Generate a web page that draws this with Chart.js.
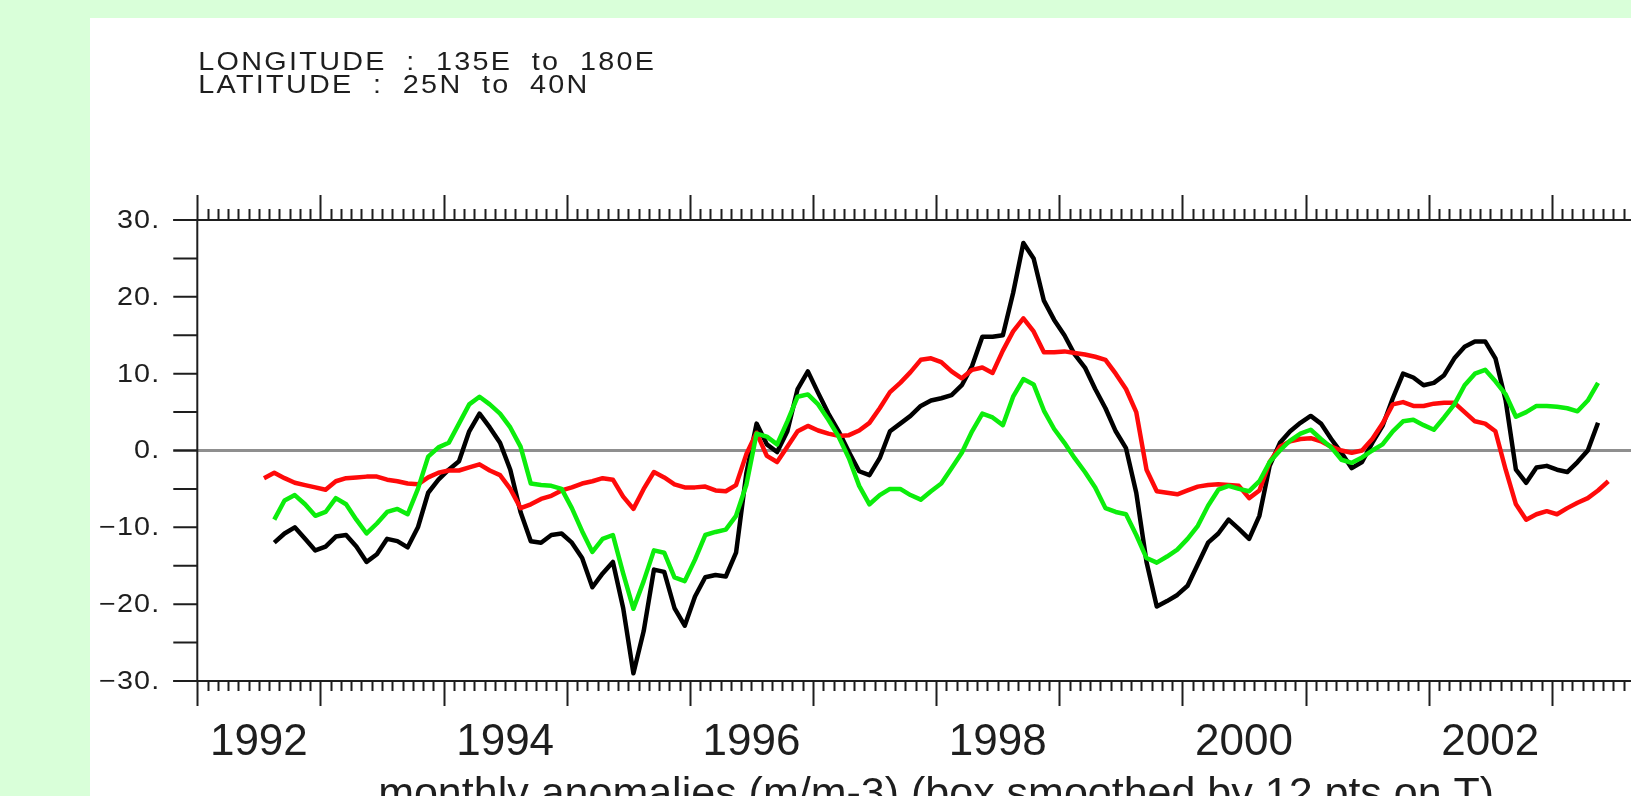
<!DOCTYPE html>
<html>
<head>
<meta charset="utf-8">
<title>Monthly anomalies 135E-180E, 25N-40N</title>
<script src="https://cdn.jsdelivr.net/npm/chart.js@4.4.1/dist/chart.umd.min.js"></script>
<style>
  html, body { margin: 0; padding: 0; width: 1631px; height: 796px; overflow: hidden; background: #d9ffd9; }
  #panel { position: absolute; left: 90px; top: 18px; width: 1700px; height: 800px; background: #ffffff; }
  canvas { display: block; }
</style>
</head>
<body>
<div id="panel"><canvas id="chart" width="1700" height="800"></canvas></div>
<script>
// Time axis in decimal years; series are monthly, index 0 = January 1992
const firstYear = 1992;
const axisYears = [1992, 2004];
const yearLabels = [1992, 1994, 1996, 1998, 2000, 2002];
const yTickValues = [30, 20, 10, 0, -10, -20, -30];
const yTickLabels = ['30.', '20.', '10.', '0.', '\u221210.', '\u221220.', '\u221230.'];
const headerLines = ['LONGITUDE : 135E to 180E', 'LATITUDE : 25N to 40N'];
const axisTitle = 'monthly anomalies (m/m-3) (box smoothed by 12 pts on T)';

// first month of each smoothed series (months after Jan 1992)
const blackStart = 7;   // Aug 1992
const redStart = 6;     // Jul 1992
const greenStart = 7;   // Aug 1992

// 12-point box-smoothed anomalies
const blackSeries = [
  -12.0, -10.8, -10.0, -11.5, -13.0,
  -12.5, -11.2, -11.0, -12.5, -14.5, -13.5,
  -11.5, -11.8, -12.6, -10.0, -5.5, -3.8,
  -2.5, -1.4, 2.5, 4.8, 3.0, 1.0,
  -2.5, -8.0, -11.8, -12.0, -11.0, -10.8,
  -12.0, -14.0, -17.8, -16.0, -14.5, -20.5,
  -29.0, -23.5, -15.5, -15.8, -20.5, -22.8,
  -19.0, -16.5, -16.2, -16.4, -13.3, -3.0,
  3.5, 0.8, -0.2, 2.5, 8.0, 10.3,
  7.5, 4.8, 2.5, -0.2, -2.7, -3.2,
  -1.0, 2.5, 3.5, 4.5, 5.8, 6.5,
  6.8, 7.2, 8.5, 11.0, 14.8, 14.8,
  15.0, 20.5, 27.0, 25.0, 19.5, 17.0,
  15.0, 12.5, 10.8, 8.0, 5.5, 2.5,
  0.3, -5.5, -14.5, -20.3, -19.6, -18.8,
  -17.6, -14.8, -12.0, -10.8, -9.0, -10.2,
  -11.5, -8.5, -2.0, 1.0, 2.5, 3.6,
  4.5, 3.5, 1.5, -0.3, -2.3, -1.5,
  1.0, 3.2, 6.8, 10.0, 9.5, 8.5,
  8.8, 9.8, 12.0, 13.5, 14.2, 14.2,
  12.0, 6.5, -2.5, -4.2, -2.2, -2.0,
  -2.5, -2.8, -1.5, 0.0, 3.6
];

const redSeries = [
  -3.6, -2.9, -3.6, -4.2, -4.5, -4.8,
  -5.1, -4.0, -3.6, -3.5, -3.4, -3.4,
  -3.8, -4.0, -4.3, -4.4, -3.5, -2.9,
  -2.6, -2.6, -2.2, -1.8, -2.6, -3.2,
  -5.0, -7.5, -7.0, -6.3, -5.9, -5.2,
  -4.8, -4.3, -4.0, -3.6, -3.8, -6.0,
  -7.6, -5.0, -2.8, -3.5, -4.4, -4.8,
  -4.8, -4.7, -5.2, -5.3, -4.5, -0.5,
  2.3, -0.7, -1.5, 0.5, 2.5, 3.2,
  2.6, 2.2, 1.9, 2.0, 2.6, 3.6,
  5.5, 7.6, 8.8, 10.2, 11.8, 12.0,
  11.5, 10.3, 9.4, 10.5, 10.8, 10.1,
  13.0, 15.5, 17.2, 15.5, 12.8, 12.8,
  12.9, 12.7, 12.5, 12.2, 11.8, 10.0,
  8.0, 5.0, -2.5, -5.3, -5.5, -5.7,
  -5.2, -4.7, -4.5, -4.4, -4.5, -4.6,
  -6.2, -5.2, -1.5, 0.5, 1.2, 1.5,
  1.6, 1.2, 0.5, 0.0, -0.3, 0.0,
  1.5, 3.5, 6.0, 6.3, 5.8, 5.8,
  6.1, 6.2, 6.2, 5.0, 3.8, 3.5,
  2.5, -2.5, -7.0, -9.0, -8.3, -7.9,
  -8.3, -7.5, -6.8, -6.2, -5.2, -4.0
];

const greenSeries = [
  -9.0, -6.5, -5.8, -7.0, -8.5,
  -8.0, -6.2, -7.0, -9.0, -10.8, -9.5,
  -8.0, -7.6, -8.3, -5.0, -0.8, 0.4,
  1.0, 3.5, 6.0, 7.0, 6.0, 4.8,
  3.0, 0.5, -4.3, -4.5, -4.6, -5.0,
  -7.5, -10.5, -13.2, -11.5, -11.0, -16.0,
  -20.6, -17.0, -13.0, -13.3, -16.5, -17.0,
  -14.2, -11.0, -10.6, -10.3, -8.5, -4.5,
  2.2, 1.8, 0.8, 3.8, 7.0, 7.3,
  6.0, 4.0, 1.8, -1.0, -4.6, -7.0,
  -5.8, -5.0, -5.0, -5.8, -6.4, -5.3,
  -4.3, -2.3, -0.3, 2.5, 4.8, 4.3,
  3.3, 7.0, 9.3, 8.6, 5.2, 2.8,
  1.0, -1.0, -2.8, -4.8, -7.5, -8.0,
  -8.3, -11.0, -14.0, -14.6, -13.8, -12.9,
  -11.5, -9.8, -7.2, -5.1, -4.6, -5.0,
  -5.3, -4.0, -1.5, 0.0, 1.3, 2.2,
  2.7, 1.5, 0.4, -1.2, -1.6, -0.9,
  0.0, 0.8, 2.5, 3.8, 4.0, 3.3,
  2.7, 4.3, 6.0, 8.5, 10.0, 10.5,
  9.0, 7.3, 4.4, 5.0, 5.8, 5.8,
  5.7, 5.5, 5.1, 6.5, 8.8
];

// place each value at mid-month, in decimal years
function monthPoints(values, start) {
  return values.map((v, i) => ({ x: firstYear + (start + i + 0.5) / 12, y: v }));
}

const FONT = 'Arial, "Liberation Sans", sans-serif';
const INK = '#1e1e1e';
const STRETCH = 1.15;   // plotter font is wider than Arial

function wideText(ctx, text, x, y, align) {
  ctx.save();
  ctx.translate(x, y);
  ctx.scale(STRETCH, 1);
  ctx.textAlign = align;
  ctx.fillText(text, 0, 0);
  ctx.restore();
}

const ferretFrame = {
  id: 'ferretFrame',
  beforeDatasetsDraw(chart) {
    const { ctx, chartArea: a, scales: { x, y } } = chart;
    ctx.save();

    // zero reference line
    const y0 = y.getPixelForValue(0);
    ctx.strokeStyle = '#8f8f8f';
    ctx.lineWidth = 3;
    ctx.beginPath();
    ctx.moveTo(a.left - 24, y0);
    ctx.lineTo(a.right, y0);
    ctx.stroke();

    // frame
    ctx.strokeStyle = INK;
    ctx.lineWidth = 2;
    ctx.beginPath();
    ctx.moveTo(a.left - 24, a.top); ctx.lineTo(a.right, a.top);
    ctx.moveTo(a.left - 24, a.bottom); ctx.lineTo(a.right, a.bottom);
    ctx.moveTo(a.left, a.top); ctx.lineTo(a.left, a.bottom);
    ctx.stroke();

    // y ticks every 5 units
    ctx.beginPath();
    for (let v = y.min; v <= y.max; v += 5) {
      const py = y.getPixelForValue(v);
      ctx.moveTo(a.left - 24, py); ctx.lineTo(a.left, py);
    }
    ctx.stroke();

    // monthly ticks on the top and bottom axes, yearly ticks longer
    ctx.beginPath();
    const nMonths = Math.round((x.max - x.min) * 12);
    for (let m = 0; m <= nMonths; m++) {
      const px = Math.round(x.getPixelForValue(x.min + m / 12)) + 0.5;
      const major = m % 12 === 0;
      ctx.moveTo(px, a.top); ctx.lineTo(px, a.top - (major ? 25 : 11));
      ctx.moveTo(px, a.bottom); ctx.lineTo(px, a.bottom + (major ? 25 : 10));
    }
    ctx.stroke();

    // y tick labels
    ctx.fillStyle = INK;
    ctx.font = '25px ' + FONT;
    ctx.letterSpacing = '1px';
    ctx.textBaseline = 'middle';
    yTickValues.forEach((v, i) => {
      wideText(ctx, yTickLabels[i], a.left - 37, y.getPixelForValue(v) + 1, 'right');
    });

    // year labels centred on each labelled year
    ctx.letterSpacing = '0px';
    ctx.font = '44px ' + FONT;
    ctx.textAlign = 'center';
    ctx.textBaseline = 'alphabetic';
    yearLabels.forEach(yr => {
      ctx.fillText(String(yr), x.getPixelForValue(yr + 0.5), a.bottom + 74);
    });

    // axis title
    ctx.font = '43px ' + FONT;
    ctx.fillText(axisTitle, (a.left + a.right) / 2, a.bottom + 126);

    // header
    ctx.font = '25px ' + FONT;
    ctx.letterSpacing = '2px';
    ctx.wordSpacing = '8px';
    wideText(ctx, headerLines[0], a.left + 1, 52, 'left');
    wideText(ctx, headerLines[1], a.left + 1, 75, 'left');
    ctx.restore();
  }
};

const lineStyle = { borderWidth: 4.5, pointRadius: 0, tension: 0, fill: false, borderJoinStyle: 'round', borderCapStyle: 'butt' };

new Chart(document.getElementById('chart'), {
  type: 'line',
  data: {
    datasets: [
      Object.assign({ label: 'green', data: monthPoints(greenSeries, greenStart), borderColor: '#0ced0c', order: 0 }, lineStyle),
      Object.assign({ label: 'red', data: monthPoints(redSeries, redStart), borderColor: '#ff0a0a', order: 1 }, lineStyle),
      Object.assign({ label: 'black', data: monthPoints(blackSeries, blackStart), borderColor: '#000000', order: 2 }, lineStyle)
    ]
  },
  options: {
    responsive: false,
    animation: false,
    devicePixelRatio: 1,
    layout: { padding: { left: 107.3, top: 202, right: 115, bottom: 137 } },
    plugins: { legend: { display: false }, tooltip: { enabled: false } },
    scales: {
      x: { type: 'linear', min: axisYears[0], max: axisYears[1], display: false },
      y: { type: 'linear', min: -30, max: 30, display: false }
    }
  },
  plugins: [ferretFrame]
});
</script>
</body>
</html>
